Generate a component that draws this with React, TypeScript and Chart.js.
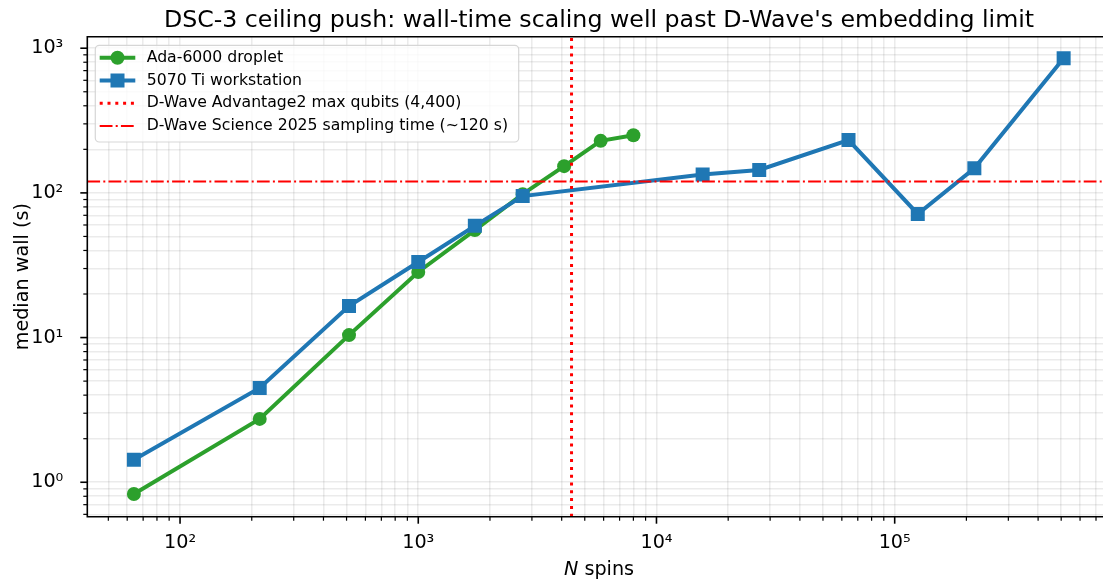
import React, { useEffect, useRef } from 'react';
import { Chart, registerables } from 'chart.js';

Chart.register(...registerables);

// ---- data ----
const adaN = [64, 216, 512, 1000, 1728, 2744, 4096, 5832, 8000];
const adaWall = [0.83, 2.74, 10.4, 28.4, 55.3, 98, 153, 229, 250];
const wsN = [64, 216, 512, 1000, 1728, 2744, 15625, 27000, 64000, 125000, 216000, 512000];
const wsWall = [1.43, 4.49, 16.5, 33.3, 59.2, 95, 134, 144, 232, 71.5, 148, 851];
const qubitLimit = 4400;
const samplingTime = 120;

const seriesLabels = ['Ada-6000 droplet', '5070 Ti workstation'];
const refLabels = ['D-Wave Advantage2 max qubits (4,400)', 'D-Wave Science 2025 sampling time (~120 s)'];
const titleText = "DSC-3 ceiling push: wall-time scaling well past D-Wave's embedding limit";
const yTitle = 'median wall (s)';

const X_MIN = 40.8;
const X_MAX = 749000;
const Y_MIN = 0.578;
const Y_MAX = 1201;

const GREEN = '#2ca02c';
const BLUE = '#1f77b4';
const RED = '#ff0000';
const FONT = '"DejaVu Sans", sans-serif';

const W = 1103;
const H = 580;
const AREA = { left: 87.3, top: 36.7, right: 1103, bottom: 516.7 };

const SUP: Record<string, string> = { '0': '⁰', '1': '¹', '2': '²', '3': '³', '4': '⁴', '5': '⁵', '6': '⁶', '-': '⁻' };

function logTicks(min: number, max: number): number[] {
  const out: number[] = [];
  for (let e = -2; e <= 7; e++) {
    for (let m = 1; m <= 9; m++) {
      const v = parseFloat((m * Math.pow(10, e)).toPrecision(6));
      if (v >= min && v <= max) out.push(v);
    }
  }
  return out;
}
const xTicks = logTicks(X_MIN, X_MAX);
const yTicks = logTicks(Y_MIN, Y_MAX);

function isMajor(v: number) {
  const l = Math.log10(v);
  return Math.abs(l - Math.round(l)) < 1e-9;
}
function powLabel(v: number) {
  if (!isMajor(v)) return '';
  const e = String(Math.round(Math.log10(v)));
  return '10' + e.split('').map((c) => SUP[c] || c).join('');
}

const decor = {
  id: 'decor',
  afterLayout(chart: any) {
    // pin the plot area to the target box
    const a = chart.chartArea;
    a.left = AREA.left;
    a.right = AREA.right;
    a.top = AREA.top;
    a.bottom = AREA.bottom;
    a.width = a.right - a.left;
    a.height = a.bottom - a.top;
    const x = chart.scales.x;
    x.left = a.left;
    x.right = a.right;
    x.width = a.width;
    x.top = a.bottom;
    x.bottom = H;
    x.height = H - a.bottom;
    const y = chart.scales.y;
    y.left = 0;
    y.right = a.left;
    y.width = a.left;
    y.top = a.top;
    y.bottom = a.bottom;
    y.height = a.height;
    x.configure();
    y.configure();
  },
  afterDatasetsDraw(chart: any) {
    const { ctx, chartArea: a, scales } = chart;
    const x = scales.x;
    const y = scales.y;
    ctx.save();
    ctx.beginPath();
    ctx.rect(a.left, a.top, a.right - a.left, a.bottom - a.top);
    ctx.clip();
    const px = x.getPixelForValue(qubitLimit);
    ctx.strokeStyle = RED;
    ctx.lineWidth = 3;
    ctx.setLineDash([3, 4.8]);
    ctx.beginPath();
    ctx.moveTo(px, a.bottom);
    ctx.lineTo(px, a.top);
    ctx.stroke();
    const py = y.getPixelForValue(samplingTime);
    ctx.lineWidth = 2;
    ctx.setLineDash([12.8, 3.2, 2, 3.2]);
    ctx.beginPath();
    ctx.moveTo(a.left, py);
    ctx.lineTo(a.right, py);
    ctx.stroke();
    ctx.restore();
  },
  afterDraw(chart: any) {
    const { ctx, chartArea: a, scales } = chart;
    const x = scales.x;
    const y = scales.y;
    ctx.save();
    // spines
    ctx.strokeStyle = '#000';
    ctx.lineWidth = 1.6;
    ctx.setLineDash([]);
    ctx.beginPath();
    ctx.moveTo(a.right + 2, a.top);
    ctx.lineTo(a.left, a.top);
    ctx.lineTo(a.left, a.bottom);
    ctx.lineTo(a.right + 2, a.bottom);
    ctx.stroke();
    // tick marks
    x.ticks.forEach((t: any) => {
      const p = x.getPixelForValue(t.value);
      const maj = isMajor(t.value);
      ctx.lineWidth = maj ? 1.6 : 1.2;
      ctx.beginPath();
      ctx.moveTo(p, a.bottom);
      ctx.lineTo(p, a.bottom + (maj ? 7 : 4));
      ctx.stroke();
    });
    y.ticks.forEach((t: any) => {
      const p = y.getPixelForValue(t.value);
      const maj = isMajor(t.value);
      ctx.lineWidth = maj ? 1.6 : 1.2;
      ctx.beginPath();
      ctx.moveTo(a.left, p);
      ctx.lineTo(a.left - (maj ? 7 : 4), p);
      ctx.stroke();
    });
    // title
    ctx.fillStyle = '#000';
    ctx.font = `23.7px ${FONT}`;
    ctx.textAlign = 'center';
    ctx.textBaseline = 'alphabetic';
    ctx.fillText(titleText, 599, 26.7);
    // x label: italic N + " spins"
    ctx.font = `italic 19.2px ${FONT}`;
    const wN = ctx.measureText('N').width;
    ctx.font = `19.2px ${FONT}`;
    const wS = ctx.measureText(' spins').width;
    const x0 = 599 - (wN + wS) / 2;
    ctx.textAlign = 'left';
    ctx.font = `italic 19.2px ${FONT}`;
    ctx.fillText('N', x0, 575);
    ctx.font = `19.2px ${FONT}`;
    ctx.fillText(' spins', x0 + wN, 575);
    // y label
    ctx.save();
    ctx.translate(28, (a.top + a.bottom) / 2);
    ctx.rotate(-Math.PI / 2);
    ctx.textAlign = 'center';
    ctx.fillText(yTitle, 0, 0);
    ctx.restore();
    // legend
    const L = 95.3, T = 45.3, R = 518.7, B = 142;
    ctx.beginPath();
    const r = 4;
    ctx.moveTo(L + r, T);
    ctx.arcTo(R, T, R, B, r);
    ctx.arcTo(R, B, L, B, r);
    ctx.arcTo(L, B, L, T, r);
    ctx.arcTo(L, T, R, T, r);
    ctx.closePath();
    ctx.fillStyle = 'rgba(255,255,255,0.8)';
    ctx.fill();
    ctx.strokeStyle = 'rgba(204,204,204,0.8)';
    ctx.lineWidth = 1.2;
    ctx.stroke();
    const rows = [57.7, 80.5, 103.3, 126.1];
    const lx0 = 99.7, lx1 = 135.3, mx = 117.5, tx = 146.7;
    ctx.lineWidth = 4;
    ctx.strokeStyle = GREEN;
    ctx.beginPath(); ctx.moveTo(lx0, rows[0]); ctx.lineTo(lx1, rows[0]); ctx.stroke();
    ctx.fillStyle = GREEN;
    ctx.beginPath(); ctx.arc(mx, rows[0], 7, 0, Math.PI * 2); ctx.fill();
    ctx.strokeStyle = BLUE;
    ctx.beginPath(); ctx.moveTo(lx0, rows[1]); ctx.lineTo(lx1, rows[1]); ctx.stroke();
    ctx.fillStyle = BLUE;
    ctx.fillRect(mx - 7, rows[1] - 7, 14, 14);
    ctx.strokeStyle = RED;
    ctx.lineWidth = 3;
    ctx.setLineDash([3, 4.8]);
    ctx.beginPath(); ctx.moveTo(lx0, rows[2]); ctx.lineTo(lx1, rows[2]); ctx.stroke();
    ctx.lineWidth = 2;
    ctx.setLineDash([12.8, 3.2, 2, 3.2]);
    ctx.beginPath(); ctx.moveTo(lx0, rows[3]); ctx.lineTo(lx1, rows[3]); ctx.stroke();
    ctx.setLineDash([]);
    ctx.fillStyle = '#000';
    ctx.font = `15.7px ${FONT}`;
    ctx.textAlign = 'left';
    ctx.textBaseline = 'middle';
    const texts = [...seriesLabels, ...refLabels];
    texts.forEach((t, i) => ctx.fillText(t, tx, rows[i]));
    ctx.restore();
  },
};

export default function App() {
  const ref = useRef<HTMLCanvasElement>(null);
  useEffect(() => {
    if (!ref.current) return;
    const tickFont = { family: FONT, size: 19.2 };
    const gridCfg = {
      color: 'rgba(0,0,0,0.08)',
      lineWidth: 1.6,
      drawTicks: true,
      tickLength: 7,
      tickColor: 'rgba(0,0,0,0)',
    };
    const chart = new Chart(ref.current, {
      type: 'scatter',
      data: {
        datasets: [
          {
            label: seriesLabels[1],
            data: wsN.map((n, i) => ({ x: n, y: wsWall[i] })),
            showLine: true,
            borderColor: BLUE,
            backgroundColor: BLUE,
            borderWidth: 4,
            pointStyle: 'rect',
            pointRadius: 9.9,
            pointBorderWidth: 0,
            order: 0,
          },
          {
            label: seriesLabels[0],
            data: adaN.map((n, i) => ({ x: n, y: adaWall[i] })),
            showLine: true,
            borderColor: GREEN,
            backgroundColor: GREEN,
            borderWidth: 4,
            pointStyle: 'circle',
            pointRadius: 7,
            pointBorderWidth: 0,
            order: 1,
          },
        ],
      },
      options: {
        responsive: false,
        animation: false,
        devicePixelRatio: 1,
        layout: { padding: { top: AREA.top, left: 0, right: 0, bottom: 0 } },
        plugins: {
          legend: { display: false },
          title: { display: false },
          tooltip: { enabled: false },
        },
        scales: {
          x: {
            type: 'logarithmic',
            min: X_MIN,
            max: X_MAX,
            bounds: 'data',
            afterBuildTicks: (s: any) => {
              s.ticks = xTicks.map((v) => ({ value: v, major: false }));
            },
            afterFit: (s: any) => {
              s.height = H - AREA.bottom;
            },
            grid: gridCfg,
            border: { display: false },
            ticks: {
              autoSkip: false,
              maxRotation: 0,
              minRotation: 0,
              padding: 8,
              color: '#000',
              font: tickFont,
              callback: (v: any) => powLabel(Number(v)),
            },
          },
          y: {
            type: 'logarithmic',
            min: Y_MIN,
            max: Y_MAX,
            bounds: 'data',
            afterBuildTicks: (s: any) => {
              s.ticks = yTicks.map((v) => ({ value: v, major: false }));
            },
            afterFit: (s: any) => {
              s.width = AREA.left;
            },
            grid: gridCfg,
            border: { display: false },
            ticks: {
              autoSkip: false,
              padding: 17,
              color: '#000',
              font: tickFont,
              callback: (v: any) => powLabel(Number(v)),
            },
          },
        },
      } as any,
      plugins: [decor],
    });
    return () => chart.destroy();
  }, []);
  return (
    <div style={{ position: 'fixed', left: 0, top: 0, width: W, height: H, background: '#fff' }}>
      <canvas ref={ref} width={W} height={H} style={{ display: 'block' }} />
    </div>
  );
}
